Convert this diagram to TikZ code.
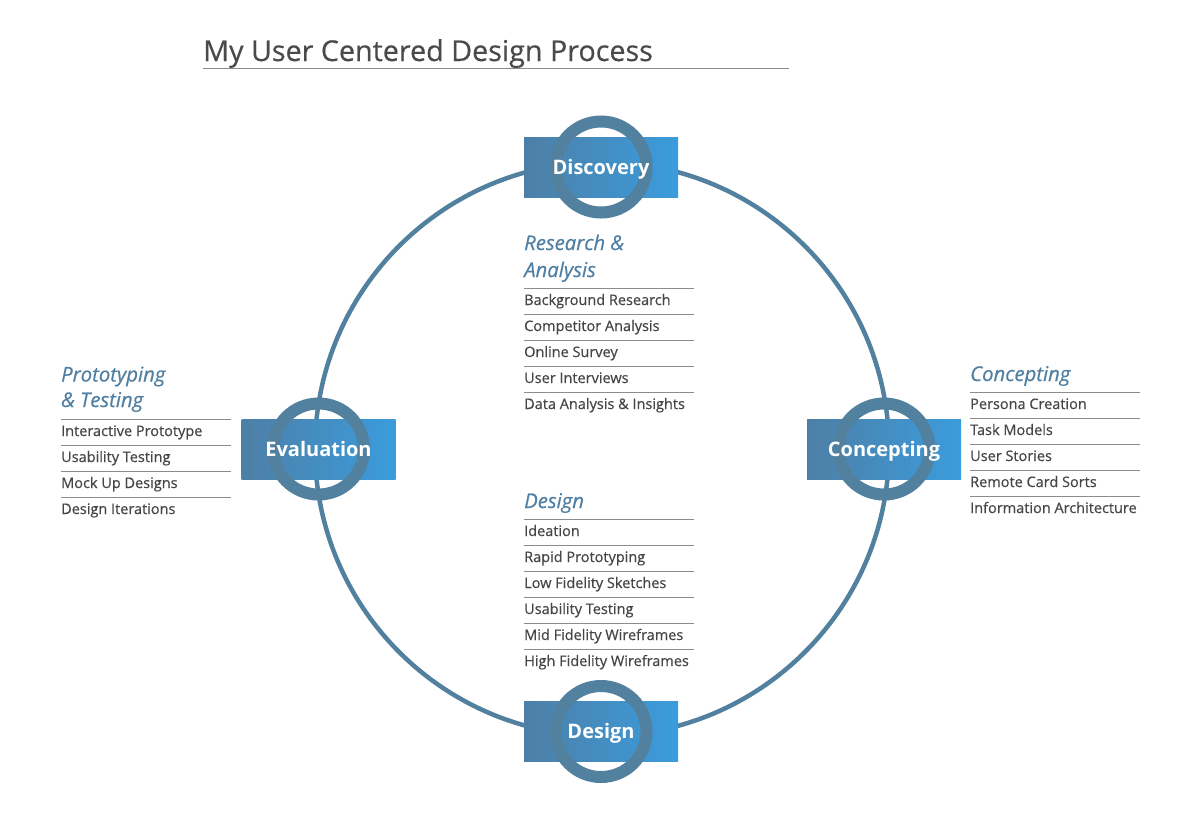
\documentclass[tikz,border=0pt]{standalone}
\usepackage{fontspec}
\setmainfont{Open Sans}
\newfontfamily\medfont{Open Sans}[FakeBold=0.45]
\newfontfamily\meditfont{Open Sans Italic}[FakeBold=0.45]
\definecolor{ringc}{HTML}{52809F}
\definecolor{boxL}{HTML}{4E7FA6}
\definecolor{boxR}{HTML}{3A9CDD}
\definecolor{headc}{HTML}{4F7FA2}
\definecolor{itemc}{HTML}{464646}
\definecolor{rulec}{HTML}{8C8C8C}
\definecolor{titlec}{HTML}{4A4A4A}
\tikzset{
  stagebox/.style={minimum width=154pt, minimum height=60pt, inner sep=0pt, left color=boxL, right color=boxR, draw=none},
  ringline/.style={draw=ringc, line width=12pt},
  bigcircle/.style={draw=ringc, line width=4.5pt},
  stagelabel/.style={anchor=base, text=white, font=\fontsize{20}{22}\selectfont\bfseries, inner sep=0pt},
  headtext/.style={anchor=base west, text=headc, font=\fontsize{20.3}{22}\meditfont, inner sep=0pt},
  itemtext/.style={anchor=base west, text=itemc, font=\fontsize{14.5}{16}\medfont, inner sep=0pt},
  sepline/.style={draw=rulec, line width=1pt},
}
\begin{document}
\begin{tikzpicture}[x=1pt,y=-1pt]
\useasboundingbox (0,0) rectangle (1200,815);
\fill[white] (0,0) rectangle (1200,815);

% title
\node[anchor=base west, text=titlec, font=\fontsize{28.7}{32}\medfont, inner sep=0pt] (title) at (203,61) {My User Centered Design Process};
\coordinate (tl) at (203,68.5);
\coordinate (tr) at (789,68.5);
\draw[draw=rulec, line width=1pt] (tl) -- (tr);

% big circle
\coordinate (cc) at (602,449);
\draw[bigcircle] (cc) circle (287);

% stages
\foreach \n/\x/\y/\t in {disc/601/167/Discovery, conc/884/449/Concepting, des/601/731.5/Design, eval/318.5/449/Evaluation}{
  \node[stagebox] (\n box) at (\x,\y) {};
  \draw[ringline] (\n box.center) circle (45.5);
  \node[stagelabel] (\n lab) at (\x,\y+7) {\t};
}

% Research & Analysis
\node[headtext] (rh1) at (524,250) {Research \&};
\node[headtext] (rh2) at (524,277) {Analysis};
\foreach \t [count=\i from 0] in {Background Research, Competitor Analysis, Online Survey, User Interviews, Data Analysis \& Insights}{
  \draw[sepline] (524,{288.5+26*\i}) -- (694,{288.5+26*\i});
  \node[itemtext] (ri\i) at (524,{305+26*\i}) {\t};
}

% Design
\node[headtext] (dh) at (524,508) {Design};
\foreach \t [count=\i from 0] in {Ideation, Rapid Prototyping, Low Fidelity Sketches, Usability Testing, Mid Fidelity Wireframes, High Fidelity Wireframes}{
  \draw[sepline] (524,{519.5+26*\i}) -- (694,{519.5+26*\i});
  \node[itemtext] (di\i) at (524,{536+26*\i}) {\t};
}

% Prototyping & Testing
\node[headtext] (ph1) at (61,381.5) {Prototyping};
\node[headtext] (ph2) at (61,407) {\& Testing};
\foreach \t [count=\i from 0] in {Interactive Prototype, Usability Testing, Mock Up Designs, Design Iterations}{
  \draw[sepline] (61,{419.5+26*\i}) -- (231,{419.5+26*\i});
  \node[itemtext] (pi\i) at (61,{436+26*\i}) {\t};
}

% Concepting
\node[headtext] (ch) at (970,381) {Concepting};
\foreach \t [count=\i from 0] in {Persona Creation, Task Models, User Stories, Remote Card Sorts, Information Architecture}{
  \draw[sepline] (970,{392.5+26*\i}) -- (1140,{392.5+26*\i});
  \node[itemtext] (ci\i) at (970,{409+26*\i}) {\t};
}
\end{tikzpicture}
\end{document}
